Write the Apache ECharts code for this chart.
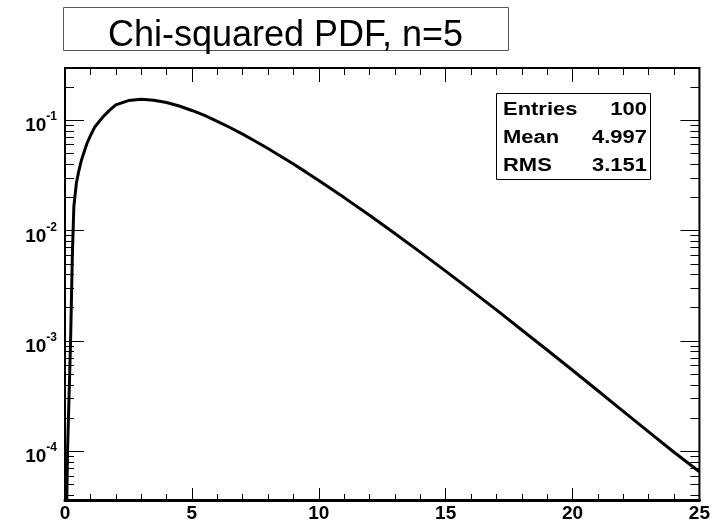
<!DOCTYPE html>
<html>
<head>
<meta charset="utf-8">
<script src="https://cdn.jsdelivr.net/npm/echarts@6/dist/echarts.min.js"></script>
<style>
  html, body { margin: 0; padding: 0; background: #fff; }
  #chart { width: 713px; height: 528px; }
</style>
</head>
<body>
<div id="chart"></div>
<script>
// Chi-squared probability density, 5 degrees of freedom (log y scale)
const xValues = [0.07, 0.1, 0.22, 0.29, 0.35, 0.45, 0.55, 0.65, 0.75, 0.87, 1.0, 1.18, 1.5, 1.76,
  2, 2.5, 3, 3.5, 4, 4.5, 5, 5.5, 6, 6.5, 7, 7.5, 8, 8.5, 9, 9.5, 10,
  11, 12, 13, 14, 15, 16, 17, 18, 19, 20, 21, 22, 23, 24, 25];
const pdfValues = [3.6e-5, 1.0e-4, 1.0e-3, 6.0e-3, 0.0166, 0.027, 0.035, 0.0434, 0.051, 0.0617, 0.072, 0.087, 0.107, 0.123,
  0.137, 0.150, 0.154, 0.151, 0.144, 0.134, 0.122, 0.110, 0.0973, 0.0855, 0.0744, 0.0642, 0.0551, 0.0470, 0.0399, 0.0337, 0.0283,
  0.0198, 0.0137, 0.00937, 0.00635, 0.00427, 0.00286, 0.00190, 0.00125, 0.000824, 0.000540, 0.000352, 0.000229, 0.000149, 0.0000975, 0.0000650];

// Axis ranges and tick values
const xMin = 0, xMax = 25, xMajorStep = 5;
const yMin = 3.6e-5, yMax = 0.296;
const yDecades = [1e-5, 1e-4, 1e-3, 1e-2, 1e-1];
const yMantissas = [1, 2, 3, 4, 5, 6, 7, 8, 9];

// Statistics box entries
const statNames = ['Entries', 'Mean', 'RMS'];
const statValues = ['100', '4.997', '3.151'];
const titleText = 'Chi-squared PDF, n=5';

const yTicks = [];
yDecades.forEach(d => yMantissas.forEach(m => {
  const v = +(m * d).toPrecision(3);
  if (v > yMin && v < yMax) yTicks.push([xMin, v, m === 1 ? 1 : 0]);
}));

const curve = xValues.map((x, i) => [x, pdfValues[i]]);

const FONT = '"Liberation Sans", Arial, Helvetica, sans-serif';
const chart = echarts.init(document.getElementById('chart'), null, { renderer: 'canvas' });

const option = {
  animation: false,
  backgroundColor: '#ffffff',
  grid: {
    left: 65, top: 68, right: 10, bottom: 28,
    show: true, borderColor: '#000', borderWidth: 2, backgroundColor: 'transparent'
  },
  xAxis: [{
    type: 'value', position: 'bottom', min: xMin, max: xMax, interval: xMajorStep,
    axisLine: { show: true, onZero: false, lineStyle: { color: '#000', width: 3 } },
    axisTick: { show: true, inside: true, length: 12, lineStyle: { color: '#000', width: 1 } },
    minorTick: { show: true, splitNumber: 5, length: 6, lineStyle: { color: '#000', width: 1 } },
    splitLine: { show: false },
    axisLabel: {
      show: true, margin: 4, color: '#000', fontFamily: FONT, fontWeight: 'bold', fontSize: 19,
      showMinLabel: true, showMaxLabel: true
    }
  }, {
    type: 'value', position: 'top', min: xMin, max: xMax, interval: xMajorStep,
    axisLine: { show: false },
    axisTick: { show: true, inside: true, length: 14, lineStyle: { color: '#000', width: 1 } },
    minorTick: { show: true, splitNumber: 5, length: 7, lineStyle: { color: '#000', width: 1 } },
    splitLine: { show: false },
    axisLabel: { show: false }
  }],
  yAxis: {
    type: 'log', logBase: 10, min: yMin, max: yMax,
    axisLine: { show: true, onZero: false, lineStyle: { color: '#000', width: 2 } },
    axisTick: { show: false },
    splitLine: { show: false },
    axisLabel: {
      show: true, margin: 8, showMinLabel: false, showMaxLabel: false,
      formatter: v => '{b|10}{s|' + Math.round(Math.log10(v)) + '}',
      rich: {
        b: { fontFamily: FONT, fontWeight: 'bold', fontSize: 19, color: '#000', padding: [12, 0, 0, 0] },
        s: { fontFamily: FONT, fontWeight: 'bold', fontSize: 12, color: '#000', padding: [0, 0, 6, 0] }
      }
    }
  },
  series: [{
    type: 'line', data: curve, xAxisIndex: 0, yAxisIndex: 0,
    showSymbol: false, symbol: 'none', smooth: false, clip: true,
    lineStyle: { color: '#000', width: 3 }, z: 3
  }, {
    // y-axis major/minor ticks drawn on both sides of the frame
    type: 'custom', data: yTicks, xAxisIndex: 0, yAxisIndex: 0, z: 4, silent: true,
    encode: { x: 0, y: 1 },
    renderItem: (params, api) => {
      const v = api.value(1);
      const major = api.value(2) === 1;
      const left = api.coord([xMin, v]);
      const right = api.coord([xMax, v]);
      const len = major ? 19 : 9;
      const st = { stroke: '#000', lineWidth: 1 };
      const y = Math.round(left[1]) + 0.5;
      return {
        type: 'group',
        children: [
          { type: 'line', shape: { x1: left[0], y1: y, x2: left[0] + len, y2: y }, style: st },
          { type: 'line', shape: { x1: right[0] - len, y1: y, x2: right[0], y2: y }, style: st }
        ]
      };
    }
  }],
  graphic: [{
    type: 'rect', left: 63, top: 7, z: 10,
    shape: { width: 445, height: 43 },
    style: { fill: '#fff', stroke: '#555', lineWidth: 1 }
  }, {
    type: 'text', z: 11, x: 285.5, y: 36,
    style: { text: titleText, font: 'normal 36px ' + FONT, fill: '#000', align: 'center', verticalAlign: 'middle' }
  }, {
    type: 'rect', left: 496, top: 93, z: 10,
    shape: { width: 154, height: 86 },
    style: { fill: '#fff', stroke: '#000', lineWidth: 1 }
  }].concat(statNames.map((n, i) => ({
    type: 'text', z: 11, x: 503, y: 110 + 28 * i, scaleX: 1.22,
    style: { text: n, font: 'bold 18px ' + FONT, fill: '#000', align: 'left', verticalAlign: 'middle' }
  }))).concat(statValues.map((n, i) => ({
    type: 'text', z: 11, x: 647, y: 110 + 28 * i, scaleX: 1.22,
    style: { text: n, font: 'bold 18px ' + FONT, fill: '#000', align: 'right', verticalAlign: 'middle' }
  })))
};

chart.setOption(option);
</script>
</body>
</html>
